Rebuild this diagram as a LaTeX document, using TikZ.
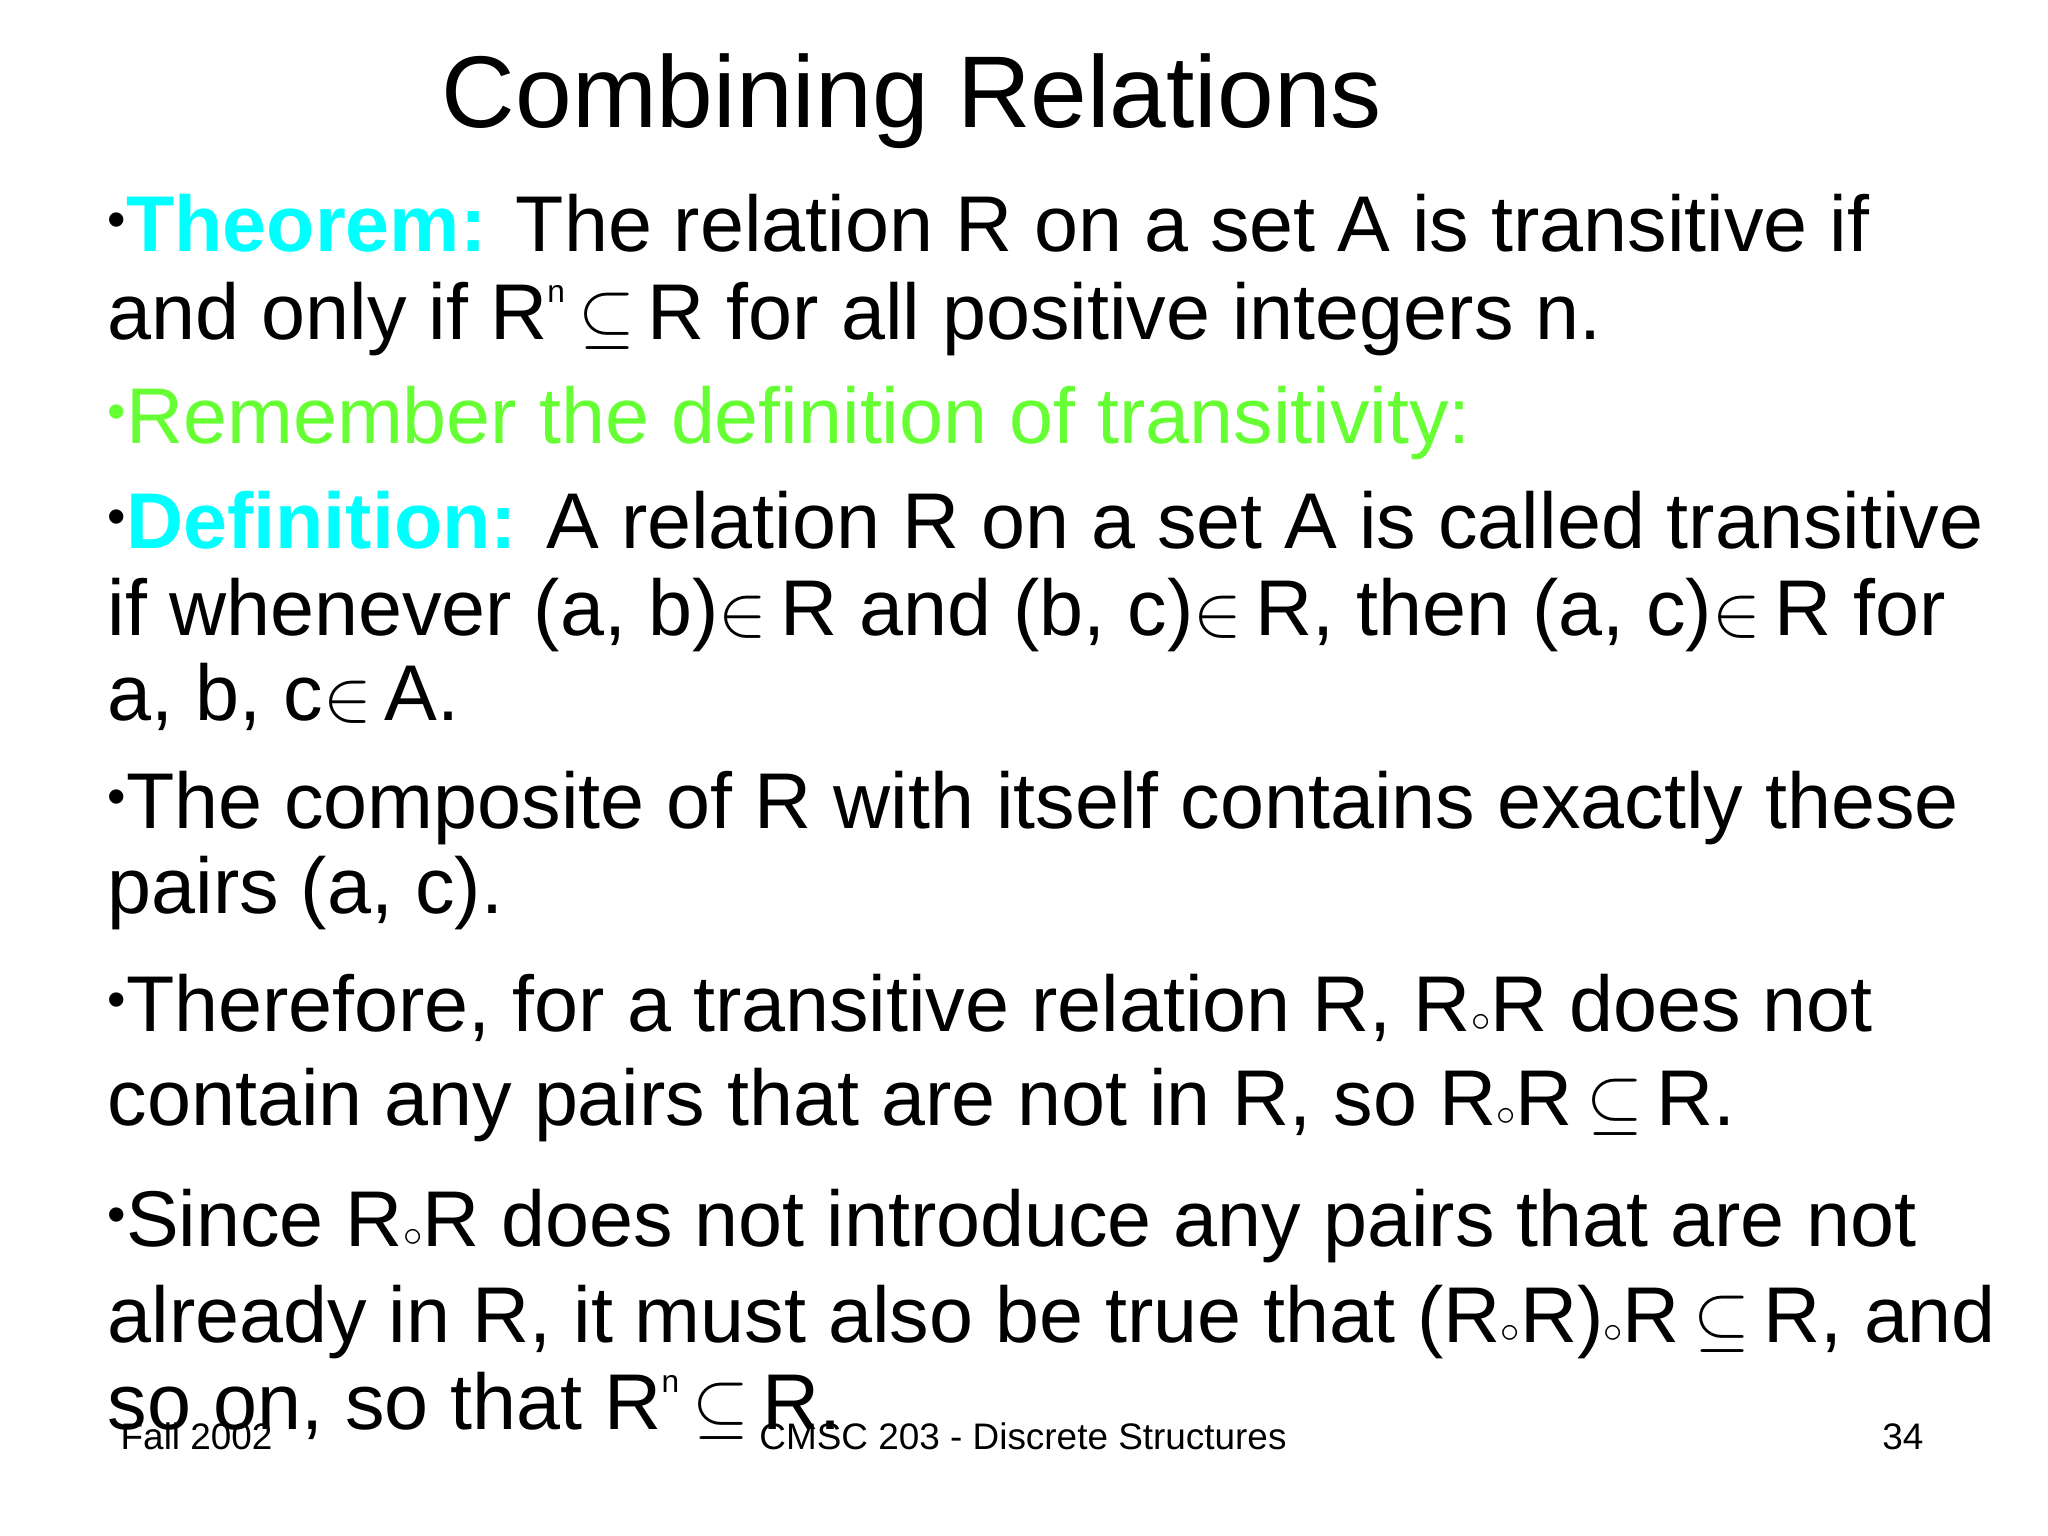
\documentclass[tikz,border=0pt]{standalone}
\usepackage{fontspec}
\setmainfont{Liberation Sans}
\definecolor{cy}{HTML}{00FFFF}
\definecolor{gr}{HTML}{66FF33}
\newcommand{\cmp}{{\ensuremath{\scriptscriptstyle\circ}}}
\newcommand{\bul}{\raisebox{0.35ex}{\fontsize{15}{15}\selectfont•}}
\newcommand{\supn}{\raisebox{0.9ex}{\fontsize{9}{9}\selectfont n}}
\begin{document}
\begin{tikzpicture}[x=1cm,y=1cm,
  body/.style={anchor=base west,inner sep=0pt,font=\fontsize{22.5}{27}\selectfont},
  foot/.style={inner sep=0pt,font=\fontsize{10.5}{12}\selectfont}]
\useasboundingbox[fill=white] (0,0) rectangle (20.48,15.36);
\node[anchor=base,inner sep=0pt,font=\fontsize{29}{34}\selectfont] (title) at (9.12,14.08) {Combining Relations};
\node[body] (l1) at (1.07,12.84) {\bul\textcolor{cy}{\textbf{Theorem:}} The relation R on a set A is transitive if};
\node[body] (l2) at (1.07,11.96) {and only if R\supn\,$\subseteq$\,R for all positive integers n.};
\node[body,text=gr] (l3) at (1.07,10.92) {\bul Remember the definition of transitivity:};
\node[body] (l4) at (1.07,9.87) {\bul\textcolor{cy}{\textbf{Definition:}} A relation R on a set A is called transitive};
\node[body] (l5) at (1.07,9.00) {if whenever (a, b)$\in$\,R and (b, c)$\in$\,R, then (a, c)$\in$\,R for};
\node[body] (l6) at (1.07,8.15) {a, b, c$\in$\,A.};
\node[body] (l7) at (1.07,7.07) {\bul The composite of R with itself contains exactly these};
\node[body] (l8) at (1.07,6.22) {pairs (a, c).};
\node[body] (l9) at (1.07,5.04) {\bul Therefore, for a transitive relation R, R\cmp R does not};
\node[body] (l10) at (1.07,4.10) {contain any pairs that are not in R, so R\cmp R\,$\subseteq$\,R.};
\node[body] (l11) at (1.07,2.89) {\bul Since R\cmp R does not introduce any pairs that are not};
\node[body] (l12) at (1.07,1.93) {already in R, it must also be true that (R\cmp R)\cmp R\,$\subseteq$\,R, and};
\node[body] (l13) at (1.07,1.06) {so on, so that R\supn\,$\subseteq$\,R.};
\node[foot,anchor=base west] (f1) at (1.20,0.86) {Fall 2002};
\node[foot,anchor=base] (f2) at (10.23,0.86) {CMSC 203 - Discrete Structures};
\node[foot,anchor=base east] (f3) at (19.24,0.86) {34};
\end{tikzpicture}
\end{document}
